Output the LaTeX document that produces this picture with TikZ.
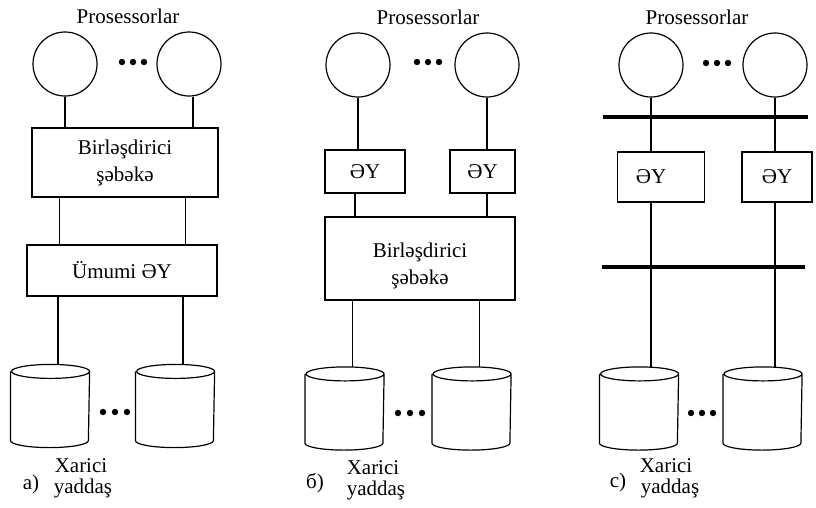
\documentclass[tikz,border=0pt]{standalone}
\usepackage{fontspec}
\setmainfont{Liberation Serif}
\usetikzlibrary{shapes.geometric,positioning}
\tikzset{
  proc/.style={circle,draw,minimum size=64pt,inner sep=0pt},
  blk/.style={rectangle,draw,align=center,inner sep=0pt},
  disk/.style={rectangle,minimum width=78pt,minimum height=82pt,inner sep=0pt},
  bus/.style={line width=4.5pt},
  txt/.style={font=\fontsize{21}{27}\selectfont}
}
% cylinder outline round a disk node
\newcommand\drawdisk[1]{%
  \draw ([yshift=-7pt]#1.north west) -- ([yshift=7pt]#1.south west)
    arc[start angle=180,end angle=360,x radius=39pt,y radius=7pt]
    -- ([yshift=-7pt]#1.north east)
    arc[start angle=0,end angle=180,x radius=39pt,y radius=7pt]
    arc[start angle=180,end angle=360,x radius=39pt,y radius=7pt];}
\begin{document}
\begin{tikzpicture}[x=1pt,y=-1pt,line width=1.2pt,every node/.style={txt}]
  \useasboundingbox (0,0) rectangle (816,507);
  % a) common memory behind the network
  \begin{scope}
    \node (a-title) at (128,16) {Prosessorlar};
    \node[proc] (a-p1) at (65,64) {};
    \node[proc] (a-p2) at (189,64) {};
    \foreach \x in {-11,0,11} \fill (133+\x,62) circle (3.2);
    \node[blk,minimum width=186pt,minimum height=69pt] (a-net) at (125,162.5) {Birləşdirici\\şəbəkə};
    \node[blk,minimum width=190pt,minimum height=51pt] (a-mem) at (122,270.5) {Ümumi ƏY};
    \node[disk] (a-d1) at (50,406) {};
    \node[disk] (a-d2) at (175,406) {};
    \drawdisk{a-d1}
    \drawdisk{a-d2}
    \foreach \x in {-12,0,12} \fill (115+\x,412) circle (3.2);
    \draw (a-p1) -- (a-p1 |- a-net.north);
    \draw ([xshift=4]a-p2.south) -- ([xshift=4]a-p2.south |- a-net.north);
    \draw ([xshift=28]a-net.south west) -- ([xshift=28]a-net.south west |- a-mem.north);
    \draw ([xshift=-33]a-net.south east) -- ([xshift=-33]a-net.south east |- a-mem.north);
    \draw ([xshift=8]a-d1.north) -- ([xshift=8]a-d1.north |- a-mem.south);
    \draw ([xshift=8]a-d2.north) -- ([xshift=8]a-d2.north |- a-mem.south);
    \node (a-x) at (81,466) {Xarici};
    \node (a-y) at (83,488) {yaddaş};
    \node (a-tag) at (31,484) {a)};
  \end{scope}
  % b) local memory per processor
  \begin{scope}[xshift=270]
    \node (b-title) at (158,17) {Prosessorlar};
    \node[proc] (b-p1) at (88,65) {};
    \node[proc] (b-p2) at (217,65) {};
    \foreach \x in {-11,0,11} \fill (158+\x,62) circle (3.2);
    \node[blk,minimum width=80pt,minimum height=43pt] (b-m1) at (95,171.5) {ƏY};
    \node[blk,minimum width=65pt,minimum height=43pt] (b-m2) at (212.5,171.5) {ƏY};
    \node[blk,minimum width=190pt,minimum height=83pt] (b-net) at (150,258.5) {};
    \node[align=center] (b-nett) at ([yshift=-7pt]b-net.center) {Birləşdirici\\şəbəkə};
    \node[disk] (b-d1) at (74.5,408.5) {};
    \node[disk] (b-d2) at (201.5,408.5) {};
    \drawdisk{b-d1}
    \drawdisk{b-d2}
    \foreach \x in {-12,0,12} \fill (140+\x,413) circle (3.2);
    \draw (b-p1) -- (b-p1 |- b-m1.north);
    \draw (b-p2) -- (b-p2 |- b-m2.north);
    \draw ([xshift=-3]b-p1 |- b-m1.south) -- ([xshift=-3]b-p1 |- b-net.north);
    \draw (b-p2 |- b-m2.south) -- (b-p2 |- b-net.north);
    \draw ([xshift=8]b-d1.north) -- ([xshift=8]b-d1.north |- b-net.south);
    \draw ([xshift=8]b-d2.north) -- ([xshift=8]b-d2.north |- b-net.south);
    \node (b-x) at (103,468) {Xarici};
    \node (b-y) at (106,490) {yaddaş};
    \node (b-tag) at (45,483) {б)};
  \end{scope}
  % c) two buses
  \begin{scope}[xshift=540]
    \node (c-title) at (157,17) {Prosessorlar};
    \node[proc] (c-p1) at (111,65) {};
    \node[proc] (c-p2) at (235,65) {};
    \foreach \x in {-11,0,11} \fill (177+\x,63) circle (3.2);
    \coordinate (c-b1l) at (63,117);
    \coordinate (c-b1r) at (268,117);
    \coordinate (c-b2l) at (62,267);
    \coordinate (c-b2r) at (265,267);
    \draw[bus] (c-b1l) -- (c-b1r);
    \draw[bus] (c-b2l) -- (c-b2r);
    \node[blk,minimum width=87pt,minimum height=50pt] (c-m1) at (121,177) {ƏY\hspace{20pt}};
    \node[blk,minimum width=70pt,minimum height=50pt] (c-m2) at (237,177) {ƏY};
    \node[disk] (c-d1) at (99,408.5) {};
    \node[disk] (c-d2) at (222.5,408.5) {};
    \drawdisk{c-d1}
    \drawdisk{c-d2}
    \foreach \x in {-11,0,11} \fill (162+\x,413) circle (3.2);
    \draw (c-p1) -- (c-p1 |- c-m1.north);
    \draw (c-p2) -- (c-p2 |- c-m2.north);
    \draw (c-p1 |- c-m1.south) -- (c-p1 |- c-d1.north);
    \draw (c-p2 |- c-m2.south) -- (c-p2 |- c-d2.north);
    \node (c-x) at (126,466) {Xarici};
    \node (c-y) at (130,488) {yaddaş};
    \node (c-tag) at (78,482) {c)};
  \end{scope}
\end{tikzpicture}
\end{document}
